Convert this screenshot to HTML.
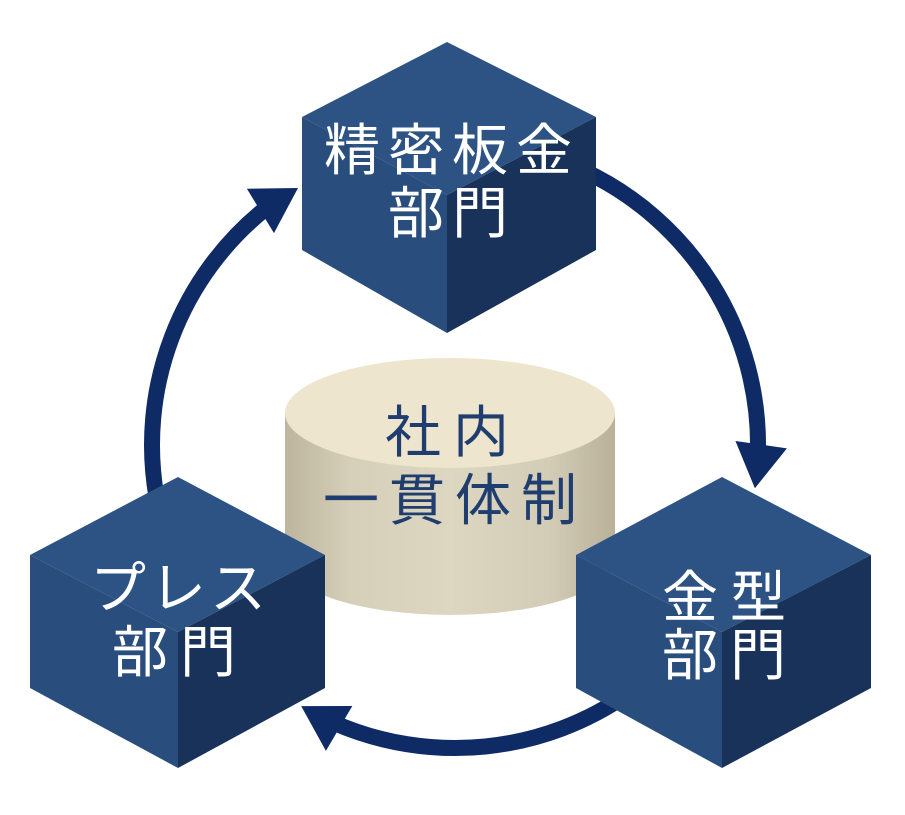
<!DOCTYPE html>
<html><head><meta charset="utf-8"><style>
html,body{margin:0;padding:0;background:#fff;}
svg{display:block}
text{font-family:"Liberation Sans","Noto Sans CJK JP",sans-serif;font-weight:400;text-anchor:middle}
</style></head><body>
<svg width="905" height="815" viewBox="0 0 905 815" xmlns="http://www.w3.org/2000/svg">
<defs>
<linearGradient id="cyl" x1="0" x2="1" y1="0" y2="0">
<stop offset="0" stop-color="#bdb59e"/><stop offset="0.2" stop-color="#d6cfb9"/><stop offset="0.5" stop-color="#ddd6c1"/><stop offset="0.8" stop-color="#d3ccb6"/><stop offset="1" stop-color="#b9b19a"/>
</linearGradient>
</defs>
<g fill="none" stroke="#0f2b66" stroke-width="16">
<path d="M156.6,497.6 A303,303 0 0 1 266.4,207.9"/>
<path d="M583,170.4 A303,303 0 0 1 758,450.3"/>
<path d="M628.8,693.2 A303,303 0 0 1 334.2,722.9"/>
</g>
<g fill="#0f2b66">
<polygon points="0,0 -44,-26 -44,26" transform="translate(298,188) rotate(-31.4)"/>
<polygon points="0,0 -44,-26 -44,26" transform="translate(754.9,488.2) rotate(98.2)"/>
<polygon points="0,0 -44,-26 -44,26" transform="translate(301.2,706.1) rotate(210.5)"/>
</g>
<path d="M285,413 L285,560 A165,55 0 0 0 615,560 L615,413 Z" fill="url(#cyl)"/>
<ellipse cx="450" cy="413" rx="165" ry="55" fill="#ede5cd"/>
<polygon points="447,42 596,117 447,195 302,117" fill="#2d5384"/>
<polygon points="302,117 447,195 447,333 302,250" fill="#294e7e"/>
<polygon points="447,195 596,117 596,250 447,333" fill="#183259"/>
<polygon points="722,477 871,555 722,632 576,555" fill="#2d5384"/>
<polygon points="576,555 722,632 722,768 576,688" fill="#294e7e"/>
<polygon points="722,632 871,555 871,688 722,768" fill="#183259"/>
<polygon points="178,477 325,555 178,632 30,555" fill="#2d5384"/>
<polygon points="30,555 178,632 178,768 30,688" fill="#294e7e"/>
<polygon points="178,632 325,555 325,688 178,768" fill="#183259"/>
<g fill="#fff" font-size="56">
<text x="452" y="170" letter-spacing="8">精密板金</text>
<text x="452" y="233" letter-spacing="8">部門</text>
<text x="730" y="617" letter-spacing="12">金型</text>
<text x="730" y="675" letter-spacing="12">部門</text>
<text x="180" y="608" letter-spacing="4">プレス</text>
<text x="180" y="672" letter-spacing="12">部門</text>
</g>
<g fill="#1f3d6e" font-size="56">
<text x="453" y="452" letter-spacing="12">社内</text>
<text x="455" y="520" letter-spacing="10">一貫体制</text>
</g>
</svg>
</body></html>
